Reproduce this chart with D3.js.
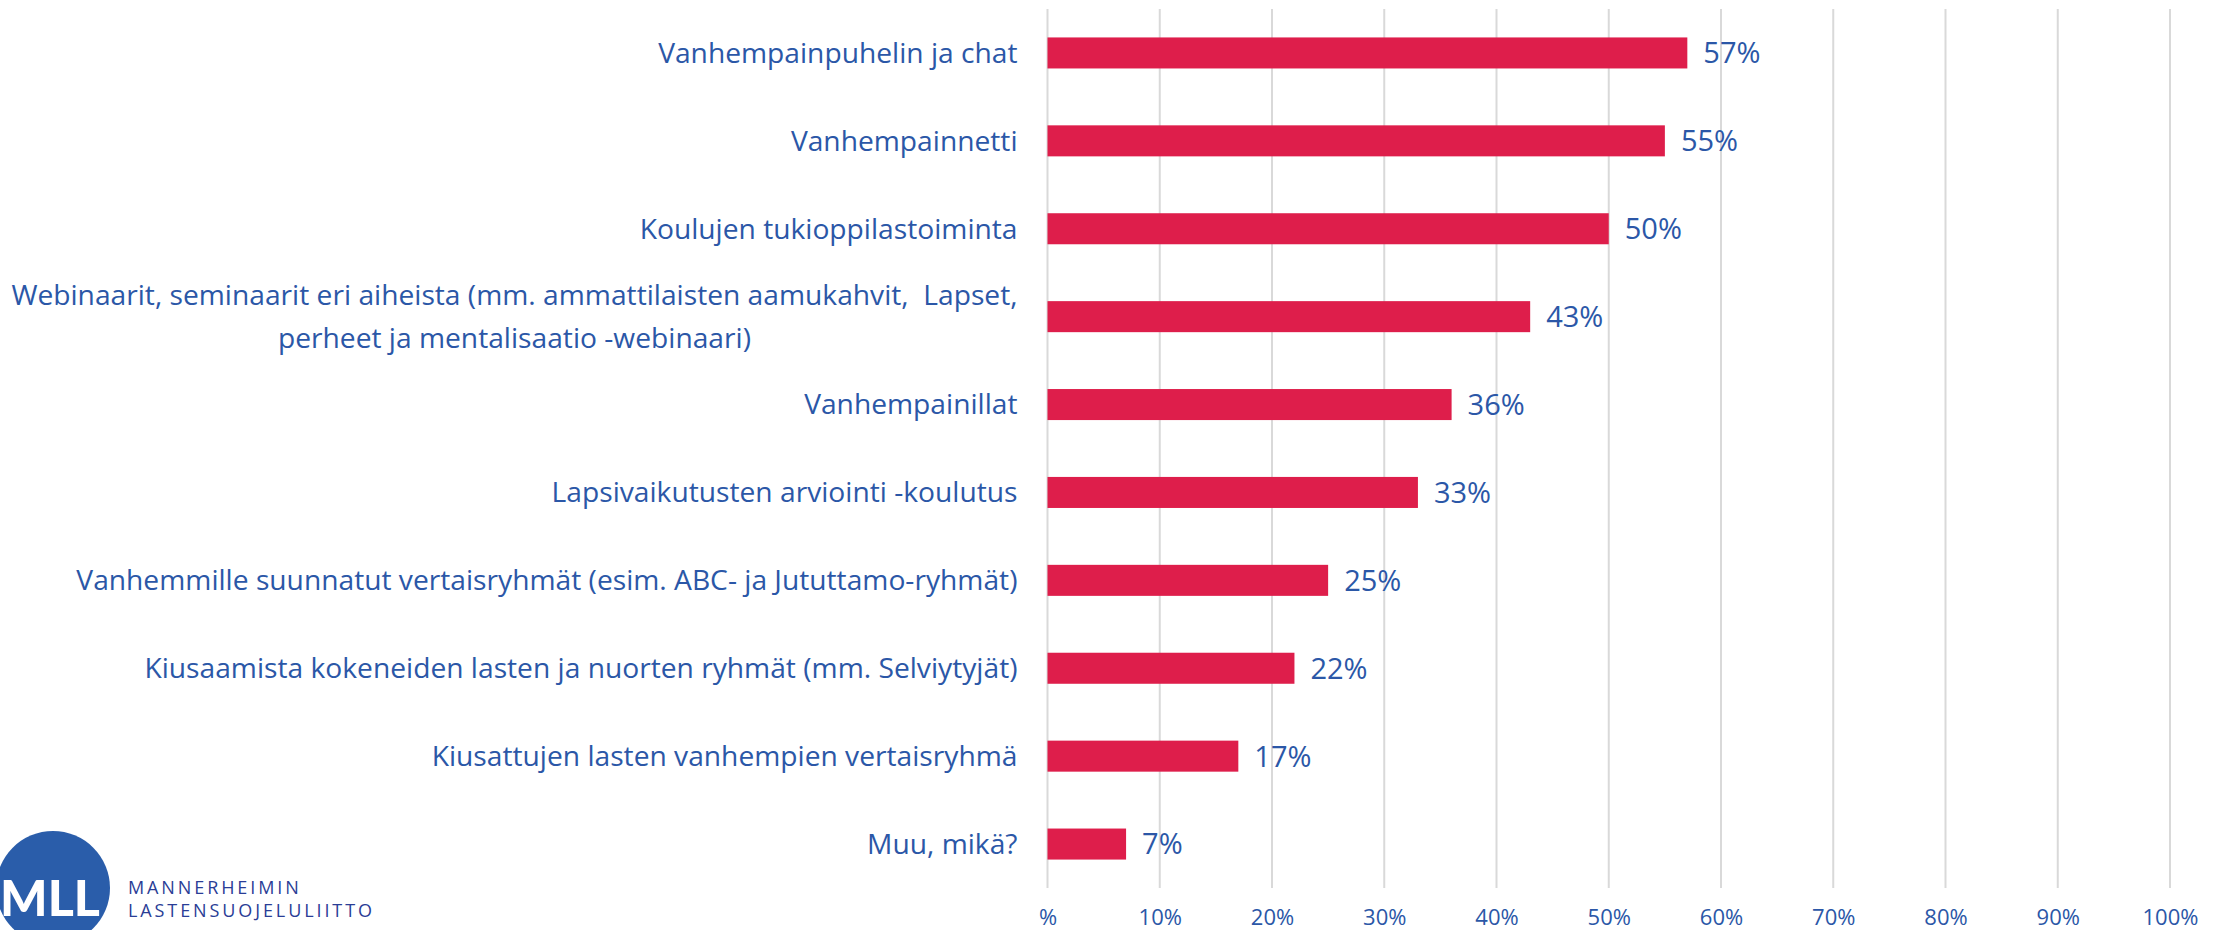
<!DOCTYPE html>
<html>
<head>
<meta charset="utf-8">
<script src="https://cdn.jsdelivr.net/npm/d3@7"></script>
<style>
  body { margin: 0; background: #fff; }
  svg { display: block; font-family: "Open Sans", sans-serif; }
</style>
</head>
<body>
<svg></svg>
<script>
// categories, top to bottom ("\n" = line break in the label)
const categories = [
    "Vanhempainpuhelin ja chat",
    "Vanhempainnetti",
    "Koulujen tukioppilastoiminta",
    "Webinaarit, seminaarit eri aiheista (mm. ammattilaisten aamukahvit,  Lapset,\nperheet ja mentalisaatio -webinaari)",
    "Vanhempainillat",
    "Lapsivaikutusten arviointi -koulutus",
    "Vanhemmille suunnatut vertaisryhmät (esim. ABC- ja Jututtamo-ryhmät)",
    "Kiusaamista kokeneiden lasten ja nuorten ryhmät (mm. Selviytyjät)",
    "Kiusattujen lasten vanhempien vertaisryhmä",
    "Muu, mikä?"
];
const values = [57, 55, 50, 43, 36, 33, 25, 22, 17, 7];
const tickValues = [0, 10, 20, 30, 40, 50, 60, 70, 80, 90, 100];
const tickLabels = ["%", "10%", "20%", "30%", "40%", "50%", "60%", "70%", "80%", "90%", "100%"];

const data = categories.map((c, i) => ({ name: c, value: values[i] }));

const W = 2215, H = 930;
const margin = { top: 9, right: 45, bottom: 42, left: 1047.5 },
    width = W - margin.left - margin.right,
    height = H - margin.top - margin.bottom;

const blue = "#2b57a7";
const red = "#de1e4b";

const root = d3.select("svg")
    .attr("width", W)
    .attr("height", H);

const svg = root.append("g")
    .attr("transform", `translate(${margin.left},${margin.top})`);

const xScale = d3.scaleLinear()
    .domain([0, 100])
    .range([0, width]);

const yScale = d3.scaleBand()
    .domain(categories)
    .range([0, height])
    .paddingInner(0.647)
    .paddingOuter(0.3235);

// vertical gridlines
svg.append("g")
    .selectAll("line")
    .data(tickValues)
    .enter()
    .append("line")
    .attr("x1", d => xScale(d))
    .attr("x2", d => xScale(d))
    .attr("y1", 0)
    .attr("y2", height)
    .attr("stroke", "#d9d9d9")
    .attr("stroke-width", 2);

// x axis labels
const xAxis = svg.append("g")
    .attr("transform", `translate(0,${height})`)
    .call(d3.axisBottom(xScale)
        .tickValues(tickValues)
        .tickFormat((d, i) => tickLabels[i])
        .tickSize(0));
xAxis.select(".domain").remove();
xAxis.selectAll("text")
    .attr("y", 37)
    .attr("dy", 0)
    .attr("fill", blue)
    .style("font-size", "22px")
    .style("font-family", "'Open Sans', sans-serif");

// bars
svg.append("g")
    .selectAll("rect")
    .data(data)
    .enter()
    .append("rect")
    .attr("x", xScale(0))
    .attr("y", d => yScale(d.name))
    .attr("width", d => xScale(d.value) - xScale(0))
    .attr("height", yScale.bandwidth())
    .attr("fill", red);

// value labels
svg.append("g")
    .selectAll("text")
    .data(data)
    .enter()
    .append("text")
    .attr("x", d => xScale(d.value) + 16)
    .attr("y", d => yScale(d.name) + yScale.bandwidth() / 2)
    .attr("dy", "0.36em")
    .attr("fill", blue)
    .style("font-size", "29px")
    .text(d => d.value + "%");

// category labels, multi-line ones centered on each other
const labelSize = 28.2, lineH = 43;
const labels = svg.append("g")
    .selectAll("text")
    .data(data)
    .enter()
    .append("text")
    .attr("fill", blue)
    .style("font-size", labelSize + "px")
    .style("white-space", "pre")
    .attr("y", d => yScale(d.name) + yScale.bandwidth() / 2);

labels.each(function(d) {
    const lines = d.name.split("\n");
    const t = d3.select(this);
    lines.forEach((ln, i) => {
        t.append("tspan")
            .attr("dy", i === 0 ? (0.35 * labelSize - (lines.length - 1) * lineH / 2) : lineH)
            .text(ln);
    });
    // measure widest line, right-align the block
    let maxW = 0;
    t.selectAll("tspan").each(function() { maxW = Math.max(maxW, this.getComputedTextLength()); });
    const right = -30;
    t.attr("text-anchor", "middle");
    t.selectAll("tspan").attr("x", right - maxW / 2);
});

// MLL logo in the lower left corner
const logo = root.append("g");
logo.append("circle")
    .attr("cx", 53)
    .attr("cy", 888)
    .attr("r", 57)
    .attr("fill", "#2a5daa");
logo.append("text")
    .attr("x", 50)
    .attr("y", 916)
    .attr("text-anchor", "middle")
    .attr("fill", "#fff")
    .style("font-family", "Lato, sans-serif")
    .style("font-weight", 900)
    .style("font-size", "50px")
    .text("MLL");
logo.append("text")
    .attr("x", 128)
    .attr("y", 894)
    .attr("fill", "#2a3d96")
    .style("font-size", "18px")
    .style("letter-spacing", "2.9px")
    .text("MANNERHEIMIN");
logo.append("text")
    .attr("x", 128)
    .attr("y", 917)
    .attr("fill", "#2a3d96")
    .style("font-size", "18px")
    .style("letter-spacing", "2.9px")
    .text("LASTENSUOJELULIITTO");
</script>
</body>
</html>
